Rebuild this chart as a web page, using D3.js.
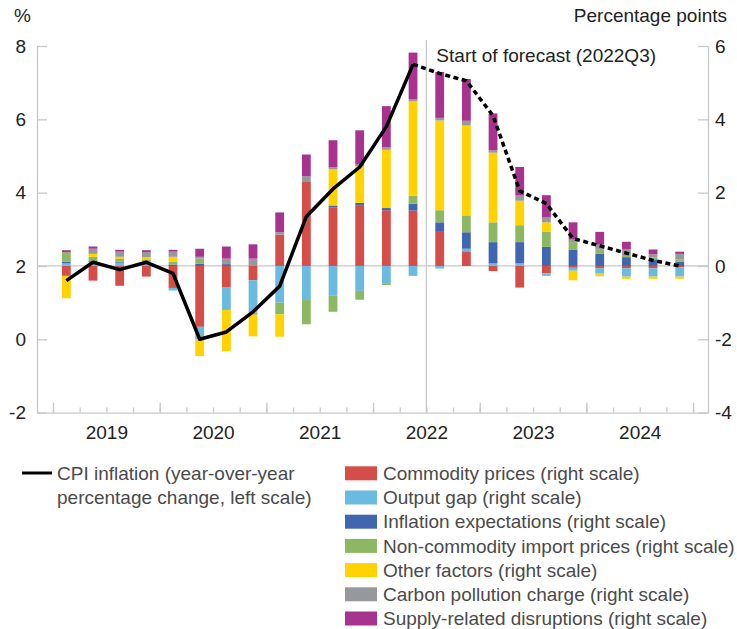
<!DOCTYPE html>
<html>
<head>
<meta charset="utf-8">
<script src="https://cdn.jsdelivr.net/npm/d3@7"></script>
<style>
  body { margin: 0; background: #fff; }
  svg { font-family: "Liberation Sans", Arial, Helvetica, sans-serif; }
  .axis path, .axis line { stroke: #c8c8c8; stroke-width: 1.3; }
  .axis text { fill: #222; font-size: 19px; }
</style>
</head>
<body>
<div id="chart"></div>
<script>
var quarters = ['2019Q1','2019Q2','2019Q3','2019Q4','2020Q1','2020Q2','2020Q3','2020Q4',
                '2021Q1','2021Q2','2021Q3','2021Q4','2022Q1','2022Q2','2022Q3','2022Q4',
                '2023Q1','2023Q2','2023Q3','2023Q4','2024Q1','2024Q2','2024Q3','2024Q4']

// CPI inflation, y/y %, left scale
var cpiActual = [1.6, 2.1, 1.9, 2.1, 1.8, 0.0, 0.2, 0.75, 1.45, 3.35, 4.1, 4.7, 5.8, 7.5]
var cpiForecast = [7.25, 7.05, 6.1, 4.05, 3.7, 2.75, 2.55, 2.35, 2.15, 2.0]   // 2022Q3 onward

// contributions, percentage points, right scale
var commodity   = [-0.27, -0.4, -0.54, -0.29, -0.6, -1.66, -0.59, -0.39, 0.85, 2.31, 1.6, 1.66,
                   1.52, 1.51, 0.93, 0.4, -0.14, -0.59, -0.2, -0.05, -0.06, -0.06, -0.06, -0.04]
var outputGap   = [0.07, 0.1, 0.09, 0.1, -0.07, -0.33, -0.61, -0.88, -1.0, -0.93, -0.8, -0.68,
                   -0.47, -0.27, -0.07, 0.07, 0.07, 0.07, -0.07, -0.08, -0.15, -0.23, -0.23, -0.25]
var expectations = [0.05, 0.03, 0.03, 0.02, 0.04, 0.06, 0.05, 0, 0, 0, 0.05, 0.06,
                   0.06, 0.19, 0.26, 0.45, 0.58, 0.58, 0.52, 0.45, 0.33, 0.24, 0.18, 0.12]
var nonCommodity = [0.26, 0.12, 0.07, 0.06, 0.07, 0.14, 0, -0.06, -0.32, -0.66, -0.45, -0.24,
                   -0.05, 0.22, 0.33, 0.46, 0.54, 0.46, 0.41, 0.2, 0.13, 0.06, 0.05, 0.06]
var otherFactors = [-0.61, 0.08, 0.06, 0.06, 0.14, -0.47, -1.12, -0.59, -0.61, 0, 0.99, 1.0,
                   1.59, 2.57, 2.45, 2.45, 1.9, 0.67, 0.26, -0.26, -0.07, -0.06, -0.06, -0.06]
var carbon      = [0, 0.14, 0.14, 0.14, 0.14, 0.05, 0.15, 0.2, 0.07, 0.14, 0.05, 0.05,
                   0.07, 0.06, 0.07, 0.13, 0.07, 0.14, 0.13, 0.07, 0.12, 0.15, 0.09, 0.15]
var supply      = [0.05, 0.06, 0.05, 0.05, 0.05, 0.22, 0.33, 0.39, 0.54, 0.59, 0.74, 0.93,
                   1.12, 1.27, 1.25, 1.14, 1.0, 0.78, 0.61, 0.47, 0.35, 0.21, 0.13, 0.06]

var seriesNames = ['Commodity prices (right scale)', 'Output gap (right scale)',
                   'Inflation expectations (right scale)', 'Non-commodity import prices (right scale)',
                   'Other factors (right scale)', 'Carbon pollution charge (right scale)',
                   'Supply-related disruptions (right scale)']
var seriesValues = [commodity, outputGap, expectations, nonCommodity, otherFactors, carbon, supply]
var colors = ['#d44d48', '#6bbbe0', '#4166b0', '#8db863', '#ffd200', '#97989c', '#a8338f']
var years = [2019, 2020, 2021, 2022, 2023, 2024]
var leftTicks = [-2, 0, 2, 4, 6, 8]
var rightTicks = [-4, -2, 0, 2, 4, 6]

var width = 737, height = 629
var svg = d3.select('#chart').append('svg')
            .attr('width', width)
            .attr('height', height)

var toTime = function(q) { return +q.slice(0, 4) + (+q.slice(5) - 0.5) / 4 }
var plain = function(d) { return String(d) }   // hyphen minus, like the original

var x = d3.scaleLinear().domain([2018.85, 2025.14]).range([37, 708])
var yLeft = d3.scaleLinear().domain([-2, 8]).range([412.6, 46])
var yRight = d3.scaleLinear().domain([-4, 6]).range([412.6, 46])

// table for the stack
var table = quarters.map(function(q, i) {
  var row = {q: q}
  seriesNames.forEach(function(s, j) { row[s] = seriesValues[j][i] })
  return row
})
var stacked = d3.stack()
                .keys(seriesNames)
                .offset(d3.stackOffsetDiverging)(table)

// zero line of right scale
svg.append('line')
   .attr('x1', x.range()[0]).attr('x2', x.range()[1])
   .attr('y1', yRight(0)).attr('y2', yRight(0))
   .attr('stroke', '#c8c8c8').attr('stroke-width', 1.3)

// forecast divider
var fx = x(2022.5)
svg.append('line')
   .attr('x1', fx).attr('x2', fx)
   .attr('y1', 40).attr('y2', yLeft(-2))
   .attr('stroke', '#c8c8c8').attr('stroke-width', 1.3)
svg.append('text')
   .attr('x', fx + 10).attr('y', 62)
   .attr('font-size', 19).attr('fill', '#222')
   .text('Start of forecast (2022Q3)')

// bars
var barW = (x(2019.25) - x(2019)) * 0.33
svg.append('g').selectAll('g')
   .data(stacked)
   .enter().append('g')
   .attr('fill', function(d, i) { return colors[i] })
   .selectAll('rect')
   .data(function(d) { return d })
   .enter().append('rect')
   .attr('x', function(d) { return x(toTime(d.data.q)) - barW / 2 })
   .attr('width', barW)
   .attr('y', function(d) { return yRight(Math.max(d[0], d[1])) })
   .attr('height', function(d) { return Math.abs(yRight(d[0]) - yRight(d[1])) })

// CPI line
var line = d3.line()
             .x(function(d) { return x(d.t) })
             .y(function(d) { return yLeft(d.v) })
var actualPts = cpiActual.map(function(v, i) { return {t: toTime(quarters[i]), v: v} })
var forecastPts = [actualPts[actualPts.length - 1]].concat(cpiForecast.map(function(v, i) {
  return {t: toTime(quarters[cpiActual.length + i]), v: v}
}))
svg.append('path').datum(actualPts)
   .attr('d', line).attr('fill', 'none')
   .attr('stroke', '#000').attr('stroke-width', 3.5)
   .attr('stroke-linejoin', 'round')
svg.append('path').datum(forecastPts)
   .attr('d', line).attr('fill', 'none')
   .attr('stroke', '#000').attr('stroke-width', 3.5)
   .attr('stroke-dasharray', '5,3.5')

// axes
svg.append('g').attr('class', 'axis')
   .attr('transform', 'translate(' + x.range()[0] + ',0)')
   .call(d3.axisLeft(yLeft).tickValues(leftTicks).tickFormat(plain)
           .tickSize(-10).tickSizeOuter(0).tickPadding(11))
svg.append('g').attr('class', 'axis')
   .attr('transform', 'translate(' + x.range()[1] + ',0)')
   .call(d3.axisRight(yRight).tickValues(rightTicks).tickFormat(plain)
           .tickSize(-10).tickSizeOuter(0).tickPadding(7))

var bottomY = yLeft(-2)
var quarterTicks = d3.range(2019, 2025.01, 0.25)
svg.append('g').attr('class', 'axis')
   .attr('transform', 'translate(0,' + bottomY + ')')
   .call(d3.axisBottom(x).tickValues(quarterTicks).tickSize(-5).tickSizeOuter(0).tickFormat(''))
svg.append('g').attr('class', 'axis')
   .attr('transform', 'translate(0,' + bottomY + ')')
   .call(d3.axisBottom(x).tickValues(d3.range(2019, 2026)).tickSize(-10).tickSizeOuter(0).tickFormat(''))
   .call(function(g) { g.select('.domain').remove() })
svg.append('g').attr('class', 'axis')
   .attr('transform', 'translate(0,' + bottomY + ')')
   .call(d3.axisBottom(x).tickValues(years.map(function(y) { return y + 0.5 }))
           .tickSize(0).tickPadding(13).tickFormat(function(d) { return Math.floor(d) }))
   .call(function(g) { g.select('.domain').remove() })

// axis titles
svg.append('text').attr('x', 14).attr('y', 22)
   .attr('font-size', 19).attr('fill', '#222').text('%')
svg.append('text').attr('x', 727).attr('y', 22)
   .attr('font-size', 19).attr('fill', '#222').attr('text-anchor', 'end')
   .text('Percentage points')

// legend
var legend = svg.append('g').attr('font-size', 19).attr('fill', '#4a4a4a')
legend.append('line')
      .attr('x1', 22).attr('x2', 52).attr('y1', 473).attr('y2', 473)
      .attr('stroke', '#000').attr('stroke-width', 3)
legend.append('text').attr('x', 57).attr('y', 473).attr('dy', '0.35em')
      .text('CPI inflation (year-over-year')
legend.append('text').attr('x', 57).attr('y', 497.5).attr('dy', '0.35em')
      .text('percentage change, left scale)')

var items = legend.selectAll('g.item')
                  .data(seriesNames)
                  .enter().append('g')
                  .attr('class', 'item')
                  .attr('transform', function(d, i) { return 'translate(345,' + (473.3 + i * 24.2) + ')' })
items.append('rect')
     .attr('x', 0).attr('y', -7).attr('width', 32).attr('height', 14)
     .attr('fill', function(d, i) { return colors[i] })
items.append('text')
     .attr('x', 38).attr('dy', '0.35em')
     .text(function(d) { return d })
</script>
</body>
</html>
